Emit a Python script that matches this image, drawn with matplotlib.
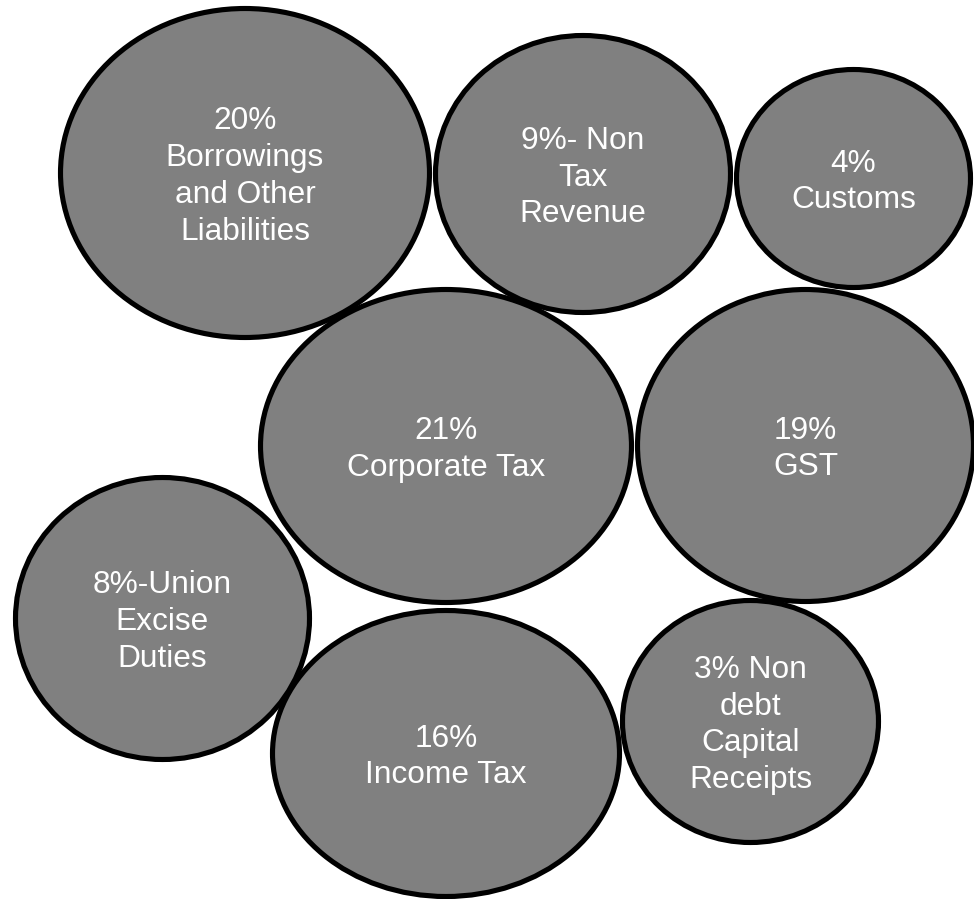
import matplotlib
matplotlib.use("Agg")
import matplotlib.pyplot as plt
from matplotlib.patches import Ellipse

# ---- data ----
values = [20, 9, 4, 21, 19, 8, 16, 3]
labels = [
    "20%\nBorrowings\nand Other\nLiabilities",
    "9%- Non\nTax\nRevenue",
    "4%\nCustoms",
    "21%\nCorporate Tax",
    "19%\nGST",
    "8%-Union\nExcise\nDuties",
    "16%\nIncome Tax",
    "3% Non\ndebt\nCapital\nReceipts",
]

# ---- layout (pixel space of the 974x899 canvas) ----
centers_x = [245, 583, 853.5, 446, 805.5, 162.5, 446, 750.5]
centers_y = [173, 174, 178.5, 446, 445.5, 618.5, 753.5, 721.5]
radii_x = [184.5, 147.5, 117, 185.5, 168, 147, 173.5, 128]
radii_y = [164.5, 138.5, 109, 156.5, 156, 141, 143, 121]

W, H = 974, 899
fig = plt.figure(figsize=(W / 100, H / 100), dpi=100)
ax = fig.add_axes([0, 0, 1, 1])
ax.set_xlim(0, W)
ax.set_ylim(H, 0)
ax.axis("off")

for v, lab, cx, cy, rx, ry in zip(values, labels, centers_x, centers_y, radii_x, radii_y):
    e = Ellipse((cx, cy), 2 * rx, 2 * ry, facecolor="#808080",
                edgecolor="black", linewidth=3.7)
    ax.add_patch(e)
    ax.text(cx, cy + 3.5, lab, ha="center", va="center", color="white",
            fontsize=22.8, family=["Liberation Sans", "DejaVu Sans"],
            linespacing=1.29, multialignment="center")

fig.savefig("out.png", dpi=100)
